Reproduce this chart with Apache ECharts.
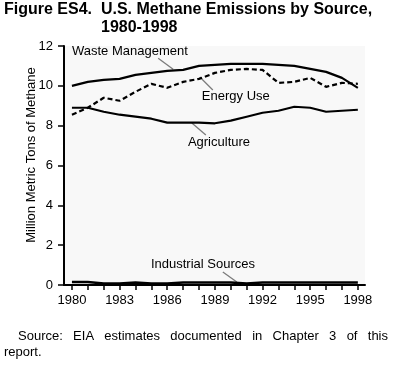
<!DOCTYPE html>
<html><head><meta charset="utf-8">
<script src="https://cdn.jsdelivr.net/npm/echarts@6/dist/echarts.min.js"></script>
<style>html,body{margin:0;padding:0;background:#fff}#c{width:400px;height:367px}</style>
</head><body><div id="c"></div>
<script>
var years = [1980,1981,1982,1983,1984,1985,1986,1987,1988,1989,1990,1991,1992,1993,1994,1995,1996,1997,1998];
var xTickLabels = [1980,1983,1986,1989,1992,1995,1998];
var yTicks = [0,2,4,6,8,10,12];
var waste = [10.0,10.2,10.3,10.35,10.55,10.65,10.75,10.8,11.0,11.05,11.1,11.1,11.1,11.05,11.0,10.85,10.7,10.4,9.9];
var energy = [8.55,8.9,9.4,9.25,9.7,10.1,9.9,10.2,10.35,10.65,10.8,10.85,10.8,10.15,10.2,10.4,9.95,10.15,10.1];
var agriculture = [8.9,8.9,8.7,8.55,8.45,8.35,8.15,8.15,8.15,8.12,8.25,8.45,8.65,8.75,8.95,8.9,8.7,8.75,8.8];
var industrial = [0.15,0.15,0.08,0.08,0.13,0.08,0.08,0.13,0.13,0.13,0.13,0.08,0.13,0.13,0.13,0.13,0.13,0.13,0.13];
// annotation labels: [text, year, value]
var labelNames = ['Waste Management','Energy Use','Agriculture','Industrial Sources'];
var labelPos = [[1980,11.75],[1988.18,9.49],[1987.3,7.18],[1984.97,1.05]];
// leader lines: [[year,value],[year,value]]
var leaders = [
  [[1985.43,11.38],[1986.37,10.83]],
  [[1988.05,10.44],[1988.87,9.79]],
  [[1987.55,8.13],[1988.43,7.53]],
  [[1989.5,0.65],[1990.38,0.15]]
];
var sourceWords = ['Source:','EIA','estimates','documented','in','Chapter','3','of','this'];

function pairs(v){ return years.map(function(y,i){ return [y, v[i]]; }); }
var FONT = 'Liberation Sans, Arial, sans-serif';
var chart = echarts.init(document.getElementById('c'), null, {renderer:'canvas'});
function lineSeries(name, vals, dashed, w){
  return {
    name: name, type: 'line', data: pairs(vals), symbol: 'none', smooth: false,
    lineStyle: {color:'#000', width: w||2, type: dashed ? [5,3] : 'solid'},
    z: 3
  };
}
var series = [
  lineSeries('Waste Management', waste, false, 2.2),
  lineSeries('Energy Use', energy, true, 2.2),
  lineSeries('Agriculture', agriculture, false, 2.2),
  lineSeries('Industrial Sources', industrial, false, 2.5)
];
series.push({
  type: 'lines', coordinateSystem: 'cartesian2d', silent: true,
  lineStyle: {color:'#000', width: 1.3},
  data: leaders.map(function(l){ return {coords: l}; }), z: 4
});
chart.setOption({
  animation: false,
  grid: {left: 64, right: 35, top: 46, bottom: 82, show: true, backgroundColor: '#f8f8f8', borderWidth: 0},
  xAxis: {
    type: 'value', min: 1979.5, max: 1998.45,
    axisLine: {show: true, lineStyle: {color:'#000', width: 2}},
    axisTick: {show: true, customValues: years, length: 5, lineStyle: {color:'#000', width: 1.5}},
    axisLabel: {customValues: xTickLabels, formatter: function(v){ return String(v); }, color:'#000', fontFamily: FONT, fontSize: 13, margin: 9},
    splitLine: {show: false}
  },
  yAxis: {
    type: 'value', min: 0, max: 12, interval: 2,
    axisLine: {show: true, lineStyle: {color:'#000', width: 2}},
    axisTick: {show: true, length: 6, lineStyle: {color:'#000', width: 1.5}},
    axisLabel: {color:'#000', fontFamily: FONT, fontSize: 13, margin: 11},
    splitLine: {show: false}
  },
  series: series
});
var g = [];
labelNames.forEach(function(t, i){
  var p = chart.convertToPixel({gridIndex:0}, labelPos[i]);
  g.push({type:'text', x: p[0], y: p[1], style: {text: t, fill:'#000', font: '13px ' + FONT, textAlign:'left', textVerticalAlign:'middle'}, z: 10});
});
g.push({type:'text', x: 4, y: 10, style:{text:'Figure ES4.  U.S. Methane Emissions by Source,', fill:'#000', font:'bold 16px ' + FONT, textAlign:'left', textVerticalAlign:'middle'}});
g.push({type:'text', x: 101, y: 28, style:{text:'1980-1998', fill:'#000', font:'bold 16px ' + FONT, textAlign:'left', textVerticalAlign:'middle'}});
g.push({type:'text', x: 31, y: 155, rotation: Math.PI/2, style:{text:'Million Metric Tons of Methane', fill:'#000', font:'13px ' + FONT, textAlign:'center', textVerticalAlign:'middle'}});
// justified source line between x=18 and x=388
var ctx = document.createElement('canvas').getContext('2d');
ctx.font = '13px ' + FONT;
var widths = sourceWords.map(function(w){ return ctx.measureText(w).width; });
var total = widths.reduce(function(a,b){ return a+b; }, 0);
var gap = (388 - 18 - total) / (sourceWords.length - 1);
var cx = 18;
sourceWords.forEach(function(w, i){
  g.push({type:'text', x: cx, y: 336, style:{text: w, fill:'#000', font:'13px ' + FONT, textAlign:'left', textVerticalAlign:'middle'}});
  cx += widths[i] + gap;
});
g.push({type:'text', x: 4, y: 352, style:{text:'report.', fill:'#000', font:'13px ' + FONT, textAlign:'left', textVerticalAlign:'middle'}});
chart.setOption({graphic: g});
</script></body></html>
